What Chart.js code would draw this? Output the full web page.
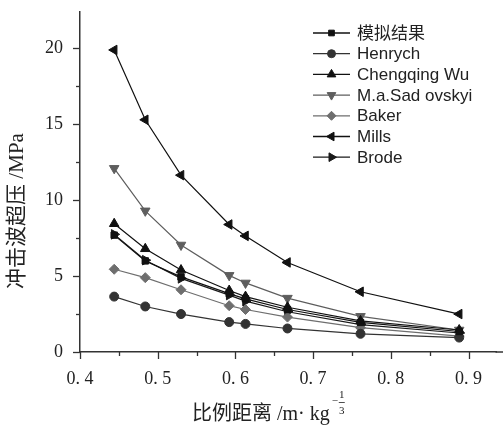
<!DOCTYPE html>
<html><head><meta charset="utf-8">
<script src="https://cdn.jsdelivr.net/npm/chart.js@4.4.1/dist/chart.umd.min.js"></script>
<style>html,body{margin:0;padding:0;background:#fff}#c{display:block}</style>
</head><body>
<canvas id="c" width="503" height="425"></canvas>
<script>
const xValues = [0.444, 0.484, 0.530, 0.592, 0.613, 0.667, 0.761, 0.888];
const seriesNames = ['模拟结果', 'Henrych', 'Chengqing Wu', 'M.a.Sad ovskyi', 'Baker', 'Mills', 'Brode'];
const simResult  = [7.7, 6.0, 4.95, 3.85, 3.5, 2.8, 1.95, 1.35];
const henrych    = [3.65, 3.0, 2.5, 1.97, 1.85, 1.55, 1.2, 0.95];
const chengqing  = [8.45, 6.8, 5.4, 4.05, 3.65, 2.95, 2.05, 1.45];
const sadovskyi  = [12.1, 9.3, 7.05, 5.05, 4.55, 3.55, 2.35, 1.45];
const baker      = [5.45, 4.9, 4.1, 3.05, 2.8, 2.3, 1.6, 1.05];
const mills      = [19.9, 15.3, 11.65, 8.4, 7.65, 5.9, 3.97, 2.5];
const brode      = [7.75, 6.05, 4.85, 3.75, 3.35, 2.65, 1.8, 1.25];
const xTickLabels = ['0.4', '0.5', '0.6', '0.7', '0.8', '0.9'];
const yTickLabels = ['0', '5', '10', '15', '20'];

const seriesValues = [simResult, henrych, chengqing, sadovskyi, baker, mills, brode];
const styles = [
  {c:'#111', p:'rect', r:4.5, rot:0},
  {c:'#333', p:'circle', r:4.5, rot:0},
  {c:'#111', p:'triangle', r:5.5, rot:0},
  {c:'#5e5e5e', p:'triangle', r:5.5, rot:180},
  {c:'#6e6e6e', p:'rectRot', r:5, rot:0},
  {c:'#111', p:'triangle', r:5.5, rot:-90},
  {c:'#1a1a1a', p:'triangle', r:5.5, rot:90}
];

const datasets = seriesValues.map((vals, i) => ({
  label: seriesNames[i],
  data: xValues.map((x, j) => ({x: x, y: vals[j]})),
  borderColor: styles[i].c,
  backgroundColor: styles[i].c,
  pointBackgroundColor: styles[i].c,
  pointBorderColor: styles[i].c,
  pointStyle: styles[i].p,
  pointRadius: styles[i].r,
  pointRotation: styles[i].rot,
  pointBorderWidth: 1,
  borderWidth: 1.2,
  tension: 0
}));

const tickFont = {family: "'Liberation Serif', serif", size: 18};

function zeroPad(s) { s.paddingTop = 0; s.paddingBottom = 0; s.paddingLeft = 0; s.paddingRight = 0; }

const customPlugin = {
  id: 'custom',
  afterDraw(chart) {
    const ctx = chart.ctx;
    const xs = chart.scales.x, ys = chart.scales.y;
    ctx.save();
    ctx.strokeStyle = '#333';
    ctx.lineWidth = 1.5;
    ctx.beginPath();
    ctx.moveTo(xs.right - 1, ys.bottom);
    ctx.lineTo(chart.width, ys.bottom);
    ctx.stroke();
    ctx.lineWidth = 1.3;
    for (let v = 0; v <= 22.4; v += 2.5) {
      const major = Math.round(v * 10) % 50 === 0;
      const py = Math.round(ys.getPixelForValue(v)) + 0.5;
      ctx.beginPath();
      ctx.moveTo(xs.left, py);
      ctx.lineTo(xs.left - (major ? 7 : 4), py);
      ctx.stroke();
    }
    for (let k = 8; k <= 18; k++) {
      const v = k * 0.05;
      const major = k % 2 === 0;
      const px = Math.round(xs.getPixelForValue(v)) + 0.5;
      ctx.beginPath();
      ctx.moveTo(px, ys.bottom);
      ctx.lineTo(px, ys.bottom + (major ? 7 : 4));
      ctx.stroke();
    }
    const lx0 = 313, lx1 = 350, tx = 357;
    chart.data.datasets.forEach((ds, i) => {
      const y = 33 + i * 20.7;
      ctx.strokeStyle = ds.borderColor;
      ctx.lineWidth = 1.3;
      ctx.beginPath(); ctx.moveTo(lx0, y); ctx.lineTo(lx1, y); ctx.stroke();
      ctx.fillStyle = ds.pointBackgroundColor;
      ctx.strokeStyle = ds.pointBorderColor;
      ctx.lineWidth = 1;
      Chart.helpers.drawPoint(ctx, {pointStyle: ds.pointStyle, radius: ds.pointRadius - 0.5, rotation: ds.pointRotation, borderWidth: 1}, (lx0 + lx1) / 2, y);
      ctx.fillStyle = '#222';
      ctx.font = "17px 'Liberation Sans', 'Noto Sans CJK SC', sans-serif";
      ctx.textBaseline = 'middle';
      ctx.textAlign = 'left';
      ctx.fillText(ds.label, tx, y + 1);
    });
    ctx.fillStyle = '#222';
    ctx.save();
    ctx.translate(17, 211);
    ctx.rotate(-Math.PI / 2);
    ctx.font = "21px 'Liberation Serif', 'Noto Sans CJK SC', serif";
    ctx.textAlign = 'center';
    ctx.textBaseline = 'middle';
    ctx.fillText('冲击波超压 /MPa', 0, 0);
    ctx.restore();
    ctx.font = "20px 'Liberation Serif', 'Noto Sans CJK SC', serif";
    ctx.textAlign = 'left';
    ctx.textBaseline = 'alphabetic';
    const main = '比例距离 /m· kg';
    ctx.fillText(main, 192, 420);
    const w = ctx.measureText(main).width;
    const ex = 192 + w + 2;
    ctx.font = "11px 'Liberation Serif', serif";
    ctx.textBaseline = 'middle';
    ctx.fillText('−', ex, 401);
    const fx = ex + 10;
    ctx.textAlign = 'center';
    ctx.fillText('1', fx, 395);
    ctx.fillText('3', fx, 411);
    ctx.lineWidth = 0.8;
    ctx.strokeStyle = '#222';
    ctx.beginPath(); ctx.moveTo(fx - 3, 402.5); ctx.lineTo(fx + 3, 402.5); ctx.stroke();
    ctx.restore();
  }
};

new Chart(document.getElementById('c'), {
  type: 'line',
  data: {datasets: datasets},
  options: {
    responsive: false,
    animation: false,
    devicePixelRatio: 1,
    layout: {padding: {top: 12, right: 0, left: 0, bottom: 0}},
    plugins: {legend: {display: false}, tooltip: {enabled: false}},
    scales: {
      x: {
        type: 'linear', min: 0.4, max: 0.936,
        afterFit(s) { s.height = 73; zeroPad(s); },
        afterBuildTicks(s) { s.ticks = xTickLabels.map(t => ({value: parseFloat(t)})); },
        grid: {display: false, drawTicks: false},
        border: {display: true, color: '#333', width: 1.5},
        ticks: {
          font: tickFont, color: '#222', padding: 16, maxRotation: 0, autoSkip: false,
          callback: (v) => { const i = xTickLabels.findIndex(t => Math.abs(parseFloat(t) - v) < 1e-6); return i >= 0 ? xTickLabels[i].replace('.', '. ') : ''; }
        }
      },
      y: {
        type: 'linear', min: 0, max: 22.4,
        afterFit(s) { s.width = 80; zeroPad(s); },
        afterBuildTicks(s) { s.ticks = yTickLabels.map(t => ({value: parseFloat(t)})); },
        grid: {display: false, drawTicks: false},
        border: {display: true, color: '#333', width: 1.5},
        ticks: {
          font: tickFont, color: '#222', padding: 17, autoSkip: false,
          callback: (v) => { const i = yTickLabels.findIndex(t => Math.abs(parseFloat(t) - v) < 1e-6); return i >= 0 ? yTickLabels[i] : ''; }
        }
      }
    }
  },
  plugins: [customPlugin]
});
</script>
</body></html>
